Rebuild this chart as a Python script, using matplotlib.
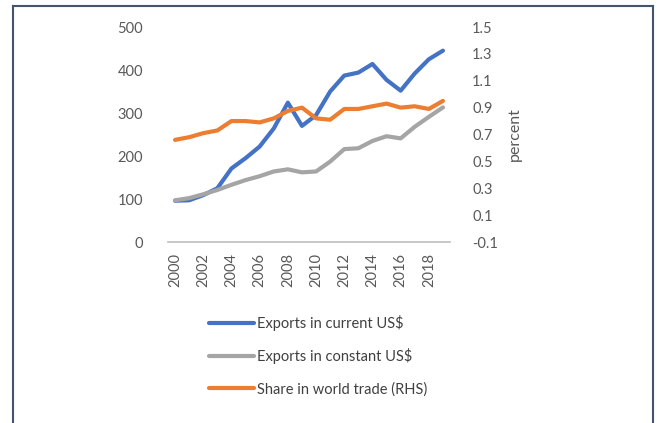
import matplotlib
matplotlib.use("Agg")
import matplotlib.pyplot as plt
from matplotlib.lines import Line2D

plt.rcParams['font.family'] = ['Lato', 'DejaVu Sans']

years = list(range(2000, 2020))
current_usd = [96, 97, 109, 125, 171, 195, 222, 264, 324, 270,
               295, 350, 387, 394, 414, 377, 352, 392, 425, 445]
constant_usd = [97, 102, 111, 121, 133, 144, 153, 164, 169, 162,
                164, 187, 216, 218, 235, 246, 241, 268, 291, 313]
world_share = [0.66, 0.68, 0.71, 0.73, 0.80, 0.80, 0.79, 0.82, 0.875, 0.90,
               0.82, 0.81, 0.89, 0.89, 0.91, 0.93, 0.90, 0.91, 0.89, 0.95]
labels = ["Exports in current US$", "Exports in constant US$",
          "Share in world trade (RHS)"]

txt = '#595959'
fig = plt.figure(figsize=(6.57, 4.23), dpi=100)
ax = fig.add_axes([168/657, 1 - 242/423, 282/657, 215/423])
ax2 = ax.twinx()

x = list(range(len(years)))
l1, = ax.plot(x, current_usd, color='#4472C4', lw=3, solid_capstyle='round')
l2, = ax.plot(x, constant_usd, color='#A5A5A5', lw=3, solid_capstyle='round')
l3, = ax2.plot(x, world_share, color='#ED7D31', lw=3, solid_capstyle='round')

ax.set_xlim(-0.5, len(years) - 0.5)
ax.set_ylim(0, 500)
ax.set_yticks(range(0, 501, 100))
ax2.set_ylim(-0.1, 1.5)
ax2.set_yticks([-0.1, 0.1, 0.3, 0.5, 0.7, 0.9, 1.1, 1.3, 1.5])
ax2.set_yticklabels(['-0.1', '0.1', '0.3', '0.5', '0.7', '0.9', '1.1', '1.3', '1.5'])

ax.set_xticks(x[::2])
ax.set_xticklabels([str(y) for y in years[::2]], rotation=90)

for a in (ax, ax2):
    for s in a.spines.values():
        s.set_visible(False)
    a.tick_params(length=0, labelsize=10.5, colors=txt)
ax.spines['bottom'].set_visible(True)
ax.spines['bottom'].set_color('#BFBFBF')
ax.spines['bottom'].set_linewidth(1.2)
ax.tick_params(axis='y', pad=18)
ax.tick_params(axis='x', pad=8)
ax2.tick_params(axis='y', pad=16)
ax2.set_ylabel('percent', color=txt, fontsize=11.5, labelpad=7)

fig.legend([l1, l2, l3], labels, loc='upper left',
           bbox_to_anchor=(209/657, 1 - 315/423), frameon=False,
           borderpad=0, borderaxespad=0, handlelength=3.1, handletextpad=0.2,
           labelspacing=1.2, fontsize=10.5, labelcolor='#404040')

# outer frame (no bottom edge)
fc = '#44546A'
fig.add_artist(Line2D([13/657, 13/657], [0, 1 - 6/423], color=fc, lw=1.5))
fig.add_artist(Line2D([13/657, 653/657], [1 - 6/423, 1 - 6/423], color=fc, lw=1.5))
fig.add_artist(Line2D([653/657, 653/657], [0, 1 - 6/423], color=fc, lw=1.5))

fig.savefig('out.png', dpi=100)
